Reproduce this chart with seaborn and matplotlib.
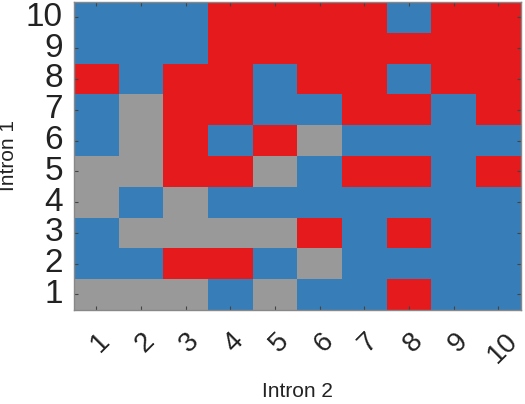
import numpy as np
import pandas as pd
import matplotlib
matplotlib.use("Agg")
import matplotlib.pyplot as plt
import matplotlib.transforms as mtrans
from matplotlib.colors import ListedColormap
import seaborn as sns

# 0 = blue, 1 = gray, 2 = red
intron2 = ["1", "2", "3", "4", "5", "6", "7", "8", "9", "10"]
intron1 = ["10", "9", "8", "7", "6", "5", "4", "3", "2", "1"]

row_10 = [0, 0, 0, 2, 2, 2, 2, 0, 2, 2]
row_9 = [0, 0, 0, 2, 2, 2, 2, 2, 2, 2]
row_8 = [2, 0, 2, 2, 0, 2, 2, 0, 2, 2]
row_7 = [0, 1, 2, 2, 0, 0, 2, 2, 0, 2]
row_6 = [0, 1, 2, 0, 2, 1, 0, 0, 0, 0]
row_5 = [1, 1, 2, 2, 1, 0, 2, 2, 0, 2]
row_4 = [1, 0, 1, 0, 0, 0, 0, 0, 0, 0]
row_3 = [0, 1, 1, 1, 1, 2, 0, 2, 0, 0]
row_2 = [0, 0, 2, 2, 0, 1, 0, 0, 0, 0]
row_1 = [1, 1, 1, 0, 1, 0, 0, 2, 0, 0]

colors = ["#377eb8", "#999999", "#e41a1c"]


def draw():
    df = pd.DataFrame([row_10, row_9, row_8, row_7, row_6,
                       row_5, row_4, row_3, row_2, row_1],
                      index=intron1, columns=intron2)

    plt.rcParams["font.family"] = ["Liberation Sans", "DejaVu Sans"]
    fig = plt.figure(figsize=(5.25, 4.04), dpi=100)
    ax = fig.add_axes([0.141, 0.233, 0.851, 0.762])

    sns.heatmap(df, cmap=ListedColormap(colors), vmin=-0.5, vmax=2.5,
                cbar=False, ax=ax)

    for s in ax.spines.values():
        s.set_visible(True)
        s.set_color("#888888")
        s.set_linewidth(1)

    ax.tick_params(direction="in", length=3, color="#444444",
                   top=True, right=True, labeltop=False, labelright=False)
    ax.tick_params(axis="y", labelsize=24, pad=8, labelcolor="#222222")
    ax.tick_params(axis="x", labelsize=20, pad=13, labelcolor="#222222")
    plt.setp(ax.get_yticklabels(), rotation=0)
    # shift rotated labels a little to the right, like the original
    shift = mtrans.ScaledTranslation(4 / 100, 0, fig.dpi_scale_trans)
    for lbl in ax.get_xticklabels():
        lbl.set_rotation(45)
        lbl.set_ha("center")
        lbl.set_va("top")
        lbl.set_transform(lbl.get_transform() + shift)

    ax.set_xlabel("Intron 2", fontsize=15, labelpad=10, color="#222222")
    ax.set_ylabel("Intron 1", fontsize=15, labelpad=6, color="#222222")

    fig.savefig("out.png", dpi=100)


if __name__ == "__main__":
    draw()
